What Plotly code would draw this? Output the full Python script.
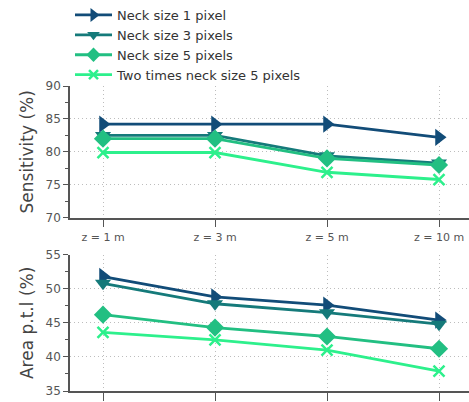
import plotly.graph_objects as go
from plotly.subplots import make_subplots

categories = ["z = 1 m", "z = 3 m", "z = 5 m", "z = 10 m"]
series_names = ["Neck size 1 pixel", "Neck size 3 pixels", "Neck size 5 pixels",
                "Two times neck size 5 pixels"]
sensitivity = [
    [84.2, 84.2, 84.2, 82.2],
    [82.5, 82.5, 79.4, 78.3],
    [82.0, 82.0, 79.0, 78.0],
    [79.9, 79.9, 76.9, 75.8],
]
area_ptl = [
    [51.8, 48.8, 47.6, 45.4],
    [50.8, 47.8, 46.5, 44.8],
    [46.2, 44.3, 43.0, 41.2],
    [43.6, 42.5, 41.0, 37.9],
]
colors = ["#124c78", "#157a7a", "#22bf82", "#2df08c"]
symbols = ["triangle-right", "triangle-down", "diamond", "x-thin"]
msizes = [15, 14, 14, 11]
legend_msizes = [12, 11, 11, 9]

W, H = 469, 402
ML, MR, MT, MB = 70, 0, 86, 11
PH = H - MT - MB

fig = make_subplots(rows=2, cols=1, shared_xaxes=False)
xs = list(range(len(categories)))


def marker(i, size):
    return dict(symbol=symbols[i], size=size, color=colors[i],
                line=dict(color=colors[i], width=2.5 if i == 3 else 0))


for i in range(4):
    fig.add_trace(go.Scatter(x=xs, y=sensitivity[i], name=series_names[i], mode="lines+markers",
                             line=dict(color=colors[i], width=2.8), marker=marker(i, msizes[i]),
                             legendgroup=str(i), showlegend=False), row=1, col=1)
    fig.add_trace(go.Scatter(x=xs, y=area_ptl[i], name=series_names[i], mode="lines+markers",
                             line=dict(color=colors[i], width=2.8), marker=marker(i, msizes[i]),
                             legendgroup=str(i), showlegend=False), row=2, col=1)
    # legend entry (no drawn marks)
    fig.add_trace(go.Scatter(x=[None], y=[None], name=series_names[i], mode="lines+markers",
                             line=dict(color=colors[i], width=2.8), marker=marker(i, legend_msizes[i]),
                             legendgroup=str(i), showlegend=True), row=1, col=1)

top_dom = [1 - (217.7 - MT) / PH, 1.0]
bot_dom = [0.0, 1 - (254.7 - MT) / PH]
xr = [-33 / 112, 3 + 30 / 112]

axis_common = dict(showline=True, linecolor="#555555", linewidth=1.5,
                   gridcolor="#bdbdbd", griddash="1px,3px", gridwidth=1,
                   zeroline=False, ticks="outside", tickcolor="#555555")

fig.update_xaxes(**axis_common, range=xr, tickvals=xs, ticktext=categories, ticklen=8,
                 tickfont=dict(size=11, color="#555555"))
fig.update_xaxes(domain=[0, 1], row=1, col=1)
fig.update_xaxes(domain=[0, 1], showticklabels=False, row=2, col=1)

fig.update_yaxes(**axis_common, dtick=5, ticklen=5, tickfont=dict(size=12, color="#555555"),
                 minor=dict(dtick=2.5, ticks="outside", ticklen=3, tickcolor="#555555", showgrid=False))
fig.update_yaxes(domain=top_dom, range=[70, 90], row=1, col=1,
                 title=dict(text="Sensitivity (%)", font=dict(size=17, color="#444444"), standoff=8))
fig.update_yaxes(domain=bot_dom, range=[35, 55], row=2, col=1,
                 title=dict(text="Area p.t.l (%)", font=dict(size=17, color="#444444"), standoff=8))

fig.update_layout(
    width=W, height=H, margin=dict(l=ML, r=MR, t=MT, b=MB),
    paper_bgcolor="white", plot_bgcolor="white",
    font=dict(family="DejaVu Sans", color="#333333"),
    legend=dict(x=0.0, xanchor="left", y=1 + MT / PH, yanchor="top",
                font=dict(size=13, color="#333333"), bgcolor="rgba(0,0,0,0)",
                tracegroupgap=0, itemwidth=37),
)
fig.write_html("out.html")
